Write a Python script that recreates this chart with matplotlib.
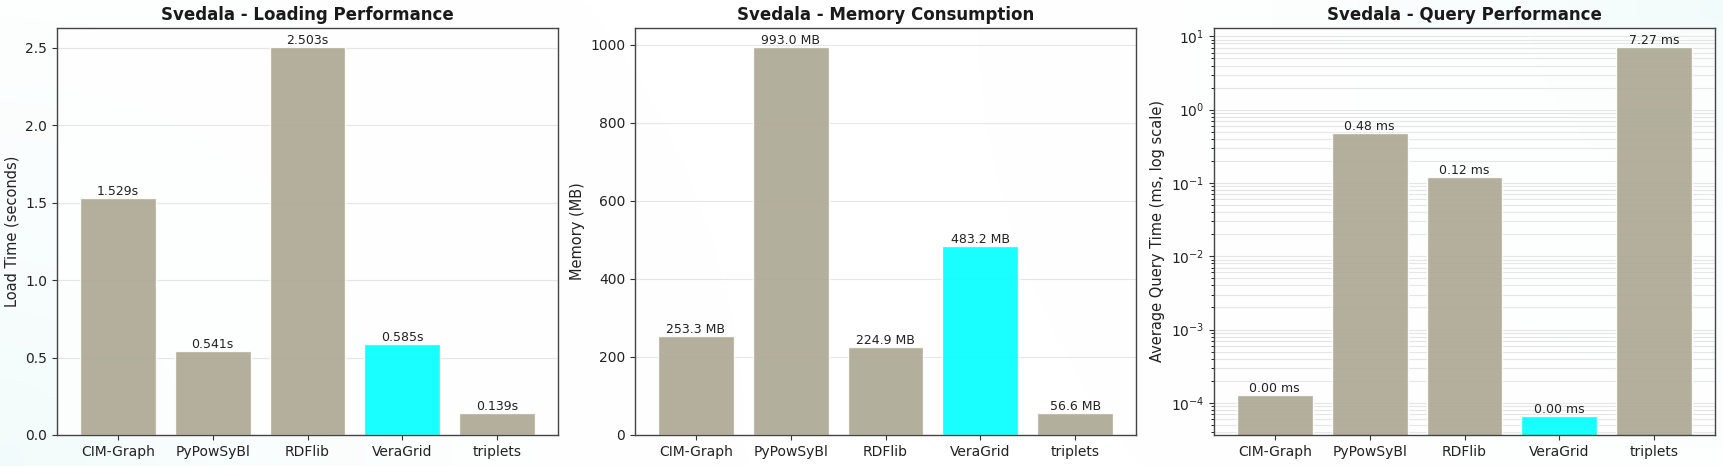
import numpy as np
import matplotlib
matplotlib.use("Agg")
import matplotlib.pyplot as plt

libraries = ["CIM-Graph", "PyPowSyBl", "RDFlib", "VeraGrid", "triplets"]
load_times = [1.529, 0.541, 2.503, 0.585, 0.139]
memory_mb = [253.3, 993.0, 224.9, 483.2, 56.6]
query_ms = [1.26e-4, 0.48, 0.12, 6.5e-5, 7.27]
highlight = "VeraGrid"

base_color = "#aba792"
hi_color = "#00ffff"

plt.rcParams["font.family"] = ["DejaVu Sans"]

fig = plt.figure(figsize=(17.23, 4.66), dpi=100)
fig.patch.set_facecolor("white")

# subtle background gradient
bg = fig.add_axes([0, 0, 1, 1], zorder=-10)
yy, xx = np.mgrid[0:1:200j, 0:1:600j]
d = np.minimum(np.hypot(xx * 3.7, yy - 0.0), np.hypot((1 - xx) * 3.7, 1 - yy))
t = np.clip(1 - d / 1.6, 0, 1) ** 2
img = np.zeros((200, 600, 3))
img[..., 0] = 1 - 0.05 * t
img[..., 1] = 1 - 0.015 * t
img[..., 2] = 1 - 0.015 * t
bg.imshow(img, aspect="auto", extent=[0, 1, 0, 1], origin="lower")
bg.axis("off")

w = 501 / 1723
h = (435 - 28) / 466
bottom = 1 - 435 / 466
lefts = [57 / 1723, 635 / 1723, 1214 / 1723]

colors = [hi_color if lib == highlight else base_color for lib in libraries]

titles = ["Svedala - Loading Performance", "Svedala - Memory Consumption", "Svedala - Query Performance"]
ylabels = ["Load Time (seconds)", "Memory (MB)", "Average Query Time (ms, log scale)"]
datasets = [load_times, memory_mb, query_ms]
fmts = ["{:.3f}s", "{:.1f} MB", "{:.2f} ms"]

for i in range(3):
    ax = fig.add_axes([lefts[i], bottom, w, h])
    ax.set_facecolor((1, 1, 1, 0.75))
    x = np.arange(len(libraries))
    if i == 2:
        ax.set_yscale("log")
    bars = ax.bar(x, datasets[i], width=0.8, color=colors, alpha=0.9,
                  edgecolor=(1, 1, 1, 0.6), linewidth=1, zorder=2)
    for b, v in zip(bars, datasets[i]):
        ax.text(b.get_x() + b.get_width() / 2, b.get_height(), fmts[i].format(v),
                ha="center", va="bottom", fontsize=9, color="#222222", zorder=3)
    ax.set_xticks(x)
    ax.set_xticklabels(libraries, fontsize=10, color="#222222")
    ax.tick_params(axis="y", labelsize=10, labelcolor="#222222", color="#333333")
    ax.tick_params(axis="x", color="#333333")
    ax.set_title(titles[i], fontsize=12, fontweight="bold", color="#1a1a1a", pad=6)
    ax.set_ylabel(ylabels[i], fontsize=10.5, color="#222222")
    if i == 2:
        ax.grid(True, axis="y", which="both", alpha=0.3, color="#b0b0b0", zorder=0)
    else:
        ax.grid(True, axis="y", alpha=0.3, color="#b0b0b0", zorder=0)
    ax.set_axisbelow(True)
    for s in ax.spines.values():
        s.set_color("#444444")
        s.set_linewidth(1.0)

fig.savefig("out.png", dpi=100, facecolor=fig.get_facecolor())
